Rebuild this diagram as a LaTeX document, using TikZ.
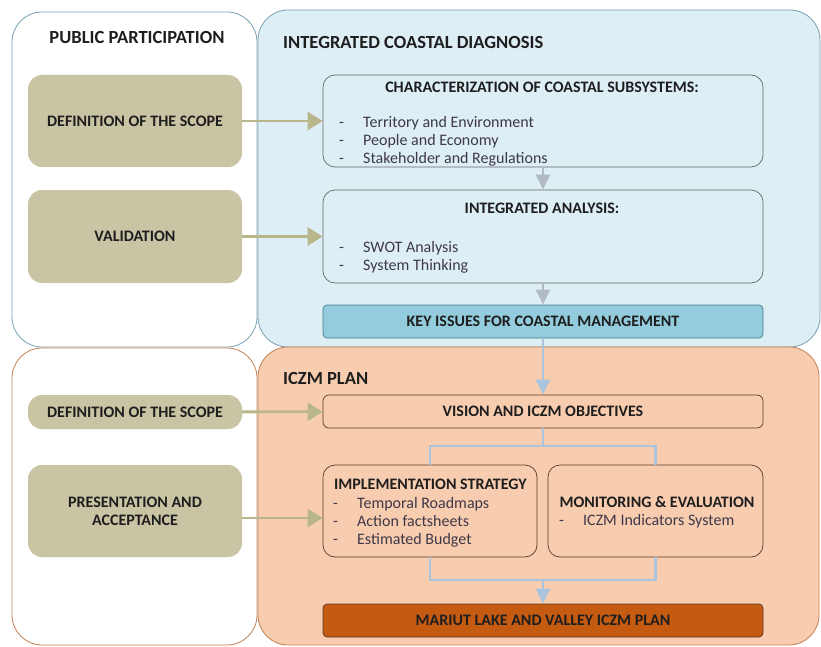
\documentclass[tikz,border=0pt]{standalone}
\usepackage{fontspec}
\setmainfont{Carlito}
\usetikzlibrary{arrows.meta,positioning,calc}

\definecolor{olivebox}{RGB}{201,196,164}
\definecolor{olivearrow}{RGB}{186,182,140}
\definecolor{diagfill}{RGB}{221,238,245}
\definecolor{diagline}{RGB}{122,160,180}
\definecolor{keyfill}{RGB}{147,205,221}
\definecolor{keyline}{RGB}{70,120,140}
\definecolor{planfill}{RGB}{248,204,174}
\definecolor{planline}{RGB}{196,128,84}
\definecolor{finalfill}{RGB}{197,90,17}
\definecolor{flowblue}{RGB}{170,196,222}
\definecolor{flowgray}{RGB}{178,186,196}
\definecolor{titletxt}{RGB}{30,30,30}
\definecolor{listtxt}{RGB}{62,56,72}

\newcommand{\itm}[1]{\makebox[24pt][l]{-}#1}

\begin{document}
\begin{tikzpicture}[x=1pt,y=-1pt,
    panel/.style={draw, rounded corners=30pt, line width=0.8pt, inner sep=0pt},
    scopebox/.style={fill=olivebox, rounded corners=14pt, inner sep=0pt, align=center,
        minimum width=214pt, text=titletxt, font=\fontsize{16}{18}\selectfont\bfseries},
    stagebox/.style={draw=black!60, rounded corners=12pt, line width=0.7pt, inner sep=0pt},
    heading/.style={text=titletxt, inner sep=0pt, font=\fontsize{18.5}{21}\selectfont\bfseries},
    boxtitle/.style={text=titletxt, inner sep=0pt, font=\fontsize{16}{18}\selectfont\bfseries},
    bullets/.style={text=listtxt, inner sep=0pt, align=left, anchor=west,
        font=\fontsize{16}{18}\selectfont},
    feed/.style={draw=olivearrow, line width=2.8pt, -{Triangle[length=15pt,width=18pt]}},
    flow/.style={draw=flowblue, line width=2.8pt},
    drop/.style={-{Triangle[length=15pt,width=14pt]}},
]
\useasboundingbox (0,0) rectangle (821,647);

% the four panels
\node[panel, draw=diagline, fill=white, minimum width=245pt, minimum height=335pt] (pubtop) at (134.5,179.5) {};
\node[panel, draw=diagline, fill=diagfill, minimum width=562pt, minimum height=337pt] (diag) at (539,178.5) {};
\node[panel, draw=planline, fill=white, minimum width=245pt, minimum height=297pt] (pubbot) at (134.5,496.5) {};
\node[panel, draw=planline, fill=planfill, minimum width=561pt, minimum height=298pt] (plan) at (538.5,496) {};

\node[heading] (pubtitle) at (137,38) {PUBLIC PARTICIPATION};
\node[heading, anchor=west] (diagtitle) at (283,42) {INTEGRATED COASTAL DIAGNOSIS};
\node[heading, anchor=west] (plantitle) at (283,378) {ICZM PLAN};

% public participation steps
\node[scopebox, minimum height=92pt] (scope1) at (135,121) {DEFINITION OF THE SCOPE};
\node[scopebox, minimum height=93pt] (valid) at (135,236.5) {VALIDATION};
\node[scopebox, minimum height=34pt] (scope2) at (135,412) {DEFINITION OF THE SCOPE};
\node[scopebox, minimum height=92pt] (accept) at (135,511) {PRESENTATION AND\\ACCEPTANCE};

% diagnosis
\node[stagebox, minimum width=440pt, minimum height=92pt] (char) at (543,121) {};
\node[boxtitle] (chartitle) at (542,87) {CHARACTERIZATION OF COASTAL SUBSYSTEMS:};
\node[bullets] (charlist) at (339,141) {\itm{Territory and Environment}\\\itm{People and Economy}\\\itm{Stakeholder and Regulations}};

\node[stagebox, minimum width=440pt, minimum height=93pt] (anal) at (543,236.5) {};
\node[boxtitle] (analtitle) at (542,208) {INTEGRATED ANALYSIS:};
\node[bullets] (anallist) at (339,257) {\itm{SWOT Analysis}\\\itm{System Thinking}};

\node[stagebox, draw=keyline, fill=keyfill, rounded corners=4pt, minimum width=440pt, minimum height=33pt,
    boxtitle] (keys) at (543,321.5) {KEY ISSUES FOR COASTAL MANAGEMENT};

% plan
\node[stagebox, draw=black!55!planline, rounded corners=6pt, minimum width=440pt, minimum height=33pt,
    boxtitle] (vision) at (543,411.5) {VISION AND ICZM OBJECTIVES};
\node[stagebox, draw=black!55!planline, minimum width=214pt, minimum height=92pt] (impl) at (430,511) {};
\node[boxtitle, anchor=west] (impltitle) at (334,484) {IMPLEMENTATION STRATEGY};
\node[bullets] (impllist) at (333,522) {\itm{Temporal Roadmaps}\\\itm{Action factsheets}\\\itm{Estimated Budget}};
\node[stagebox, draw=black!55!planline, minimum width=215pt, minimum height=92pt] (monit) at (655.5,511) {};
\node[boxtitle] (monittitle) at (657,502) {MONITORING \& EVALUATION};
\node[bullets] (monitlist) at (559,521) {\itm{ICZM Indicators System}};
\node[stagebox, draw=black!55!planline, fill=finalfill, rounded corners=4pt, minimum width=440pt, minimum height=33pt,
    boxtitle] (final) at (543,620.5) {MARIUT LAKE AND VALLEY ICZM PLAN};

% feeding arrows
\draw[feed] (scope1) -- (char);
\draw[feed] (valid) -- (anal);
\draw[feed] (scope2) -- (vision);
\draw[feed] ($(accept.east)+(0,7)$) -- ($(impl.west)+(0,7)$);

% flow inside the panels
\draw[flow, draw=flowgray, drop] (char) -- (anal);
\draw[flow, draw=flowgray, drop] (anal) -- (keys);
\draw[flow, drop] (keys) -- (vision);
\coordinate (split) at (543,446);
\coordinate (join) at (543,580);
\draw[flow] (vision) -- (split);
\draw[flow] (impl.north) |- (split) -| (monit.north);
\draw[flow] (impl.south) |- (join) -| (monit.south);
\draw[flow, drop] (join) -- (final);
\end{tikzpicture}
\end{document}
